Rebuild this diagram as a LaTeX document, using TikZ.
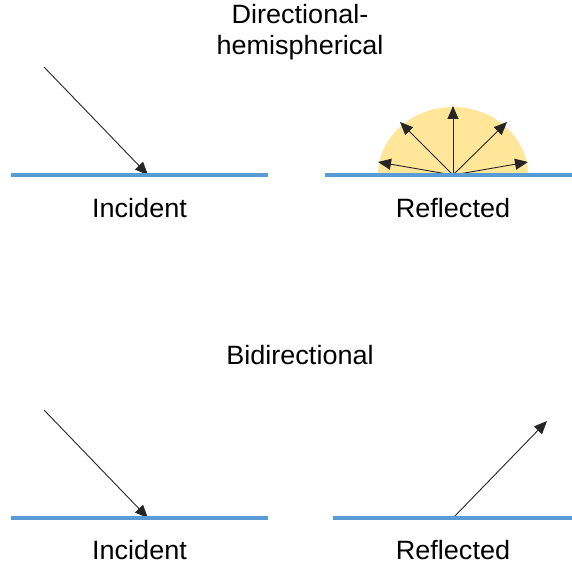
\documentclass[tikz,border=0pt]{standalone}
\usepackage{fontspec}
\setmainfont{Liberation Sans}
\usetikzlibrary{arrows.meta}
\definecolor{surf}{HTML}{5B9BD5}
\definecolor{hemi}{HTML}{FFE699}
\tikzset{
  surface/.style={draw=surf, line width=3.5pt},
  ray/.style={draw=black!85, line width=0.9pt, -{Triangle[length=13pt,width=11pt]}},
  lbl/.style={anchor=base, inner sep=0pt, font=\fontsize{26.5}{31}\selectfont}
}
\newcommand{\wtxt}[1]{\scalebox{1.02}[1]{#1}}
\begin{document}
\begin{tikzpicture}[x=1pt,y=-1pt]
\useasboundingbox (0,0) rectangle (572,569);
% titles
\node[lbl] (t1) at (300,24) {\wtxt{Directional-}};
\node[lbl] (t2) at (300,55) {\wtxt{hemispherical}};
\node[lbl] (t3) at (300,364) {\wtxt{Bidirectional}};
% top left
\coordinate (s1a) at (11,175);
\coordinate (s1b) at (268,175);
\coordinate (i1s) at (44,67);
\coordinate (i1e) at (148,175);
\draw[ray] (i1s) -- (i1e);
\draw[surface] (s1a) -- (s1b);
\node[lbl] (l1) at (139.5,218) {\wtxt{Incident}};
% top right
\coordinate (o) at (453,175);
\fill[hemi] (378,175) arc[start angle=180,end angle=0,x radius=75,y radius=-68] -- cycle;
\coordinate (h1) at (378,162);
\coordinate (h2) at (400,122);
\coordinate (h3) at (453,106);
\coordinate (h4) at (507,122);
\coordinate (h5) at (528,162);
\foreach \h in {h1,h2,h3,h4,h5} \draw[ray] (o) -- (\h);
\coordinate (s2a) at (325,175);
\coordinate (s2b) at (572,175);
\draw[surface] (s2a) -- (s2b);
\node[lbl] (l2) at (453,218) {\wtxt{Reflected}};
% bottom left
\coordinate (s3a) at (11,518);
\coordinate (s3b) at (268,518);
\coordinate (i3s) at (44,410);
\coordinate (i3e) at (148,518);
\draw[ray] (i3s) -- (i3e);
\draw[surface] (s3a) -- (s3b);
\node[lbl] (l3) at (139.5,559) {\wtxt{Incident}};
% bottom right
\coordinate (s4a) at (333,518);
\coordinate (s4b) at (572,518);
\coordinate (o4) at (453,518);
\coordinate (r4) at (547,421);
\draw[ray] (o4) -- (r4);
\draw[surface] (s4a) -- (s4b);
\node[lbl] (l4) at (453,559) {\wtxt{Reflected}};
\end{tikzpicture}
\end{document}
